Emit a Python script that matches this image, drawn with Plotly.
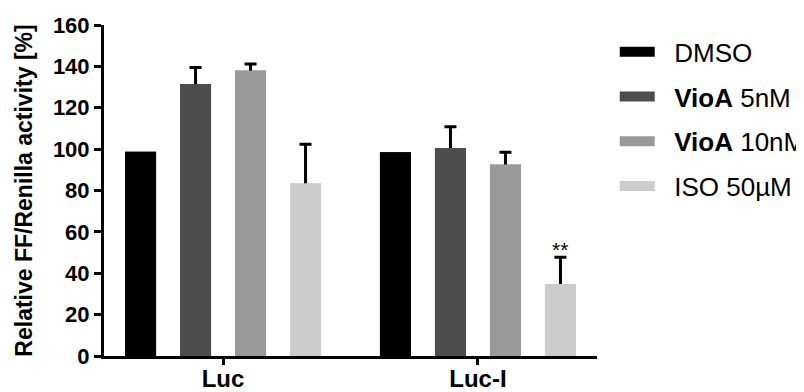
import plotly.graph_objects as go

categories = ["Luc", "Luc-I"]
series_names = ["DMSO", "<b>VioA</b> 5nM", "<b>VioA</b> 10nM", "ISO 50µM"]
series_colors = ["#000000", "#4d4d4d", "#999999", "#cccccc"]
dmso = [98.7, 98.5]
vioa5 = [131.5, 100.5]
vioa10 = [138.0, 92.6]
iso50 = [83.5, 34.8]
dmso_err = [0, 0]
vioa5_err = [8.0, 10.3]
vioa10_err = [3.2, 5.9]
iso50_err = [18.8, 12.9]
y_ticks = [0, 20, 40, 60, 80, 100, 120, 140, 160]

values = [dmso, vioa5, vioa10, iso50]
errors = [dmso_err, vioa5_err, vioa10_err, iso50_err]

FONT = "Liberation Sans, Arial, Helvetica, sans-serif"
BARGAP = 0.137
BARGROUPGAP = 0.436
PAD = "\u00a0\u00a0"

fig = go.Figure()

# base bars carrying the upward error bars (stem runs from 0, hidden under overlay)
for i, (vals, errs, col) in enumerate(zip(values, errors, series_colors)):
    kw = {}
    if any(e > 0 for e in errs):
        kw["error_y"] = dict(type="data", symmetric=False, array=errs,
                             arrayminus=vals, color="#000000",
                             thickness=3, width=6)
    fig.add_trace(go.Bar(x=categories, y=vals, marker=dict(color=col, line=dict(width=0)),
                         offsetgroup=str(i), showlegend=False, hoverinfo="skip", **kw))
# overlay bars to hide the lower part of the error stems
for i, (vals, col) in enumerate(zip(values, series_colors)):
    fig.add_trace(go.Bar(x=categories, y=vals, marker=dict(color=col, line=dict(width=0)),
                         offsetgroup=str(i), showlegend=False))
# legend entries
for i, (name, col) in enumerate(zip(series_names, series_colors)):
    fig.add_trace(go.Scatter(x=[None], y=[None], mode="lines", name=PAD + name,
                             line=dict(color=col, width=10), legendgroup=str(i)))

# significance marker above ISO bar of Luc-I
slot = (1 - BARGAP) / 4
x_iso = 1 - (1 - BARGAP) / 2 + 3.5 * slot
fig.add_annotation(x=x_iso, y=iso50[1] + iso50_err[1], text="**", showarrow=False,
                   yanchor="bottom", yshift=-6, font=dict(family=FONT, size=21, color="#000"))

fig.update_layout(
    width=796, height=384,
    margin=dict(l=96, r=207, t=17, b=36, autoexpand=False),
    paper_bgcolor="white", plot_bgcolor="white",
    barmode="group", bargap=BARGAP, bargroupgap=BARGROUPGAP,
    font=dict(family=FONT, color="#000"),
    legend=dict(x=1.036, y=0.99, xanchor="left", yanchor="top",
                font=dict(family=FONT, size=26, color="#000"),
                tracegroupgap=8, traceorder="grouped", itemwidth=35,
                bgcolor="rgba(0,0,0,0)"),
    showlegend=True,
)
fig.update_xaxes(type="category", range=[-0.467, 1.467], showline=True, linewidth=3,
                 linecolor="#000", ticks="outside", ticklen=6, tickwidth=3, tickcolor="#000",
                 showgrid=False, zeroline=False, automargin=False, ticklabelstandoff=-7,
                 tickfont=dict(family=FONT, size=24, color="#000", weight="bold"))
fig.update_yaxes(range=[0, 160], tickvals=y_ticks, showline=True, linewidth=3,
                 linecolor="#000", ticks="outside", ticklen=7, tickwidth=3, tickcolor="#000",
                 showgrid=False, zeroline=False, automargin=False,
                 tickfont=dict(family=FONT, size=22, color="#000", weight="bold"),
                 title=dict(text="<b>Relative FF/Renilla activity [%]</b>", standoff=14,
                            font=dict(family=FONT, size=23, color="#000")))

fig.write_html("out.html")
